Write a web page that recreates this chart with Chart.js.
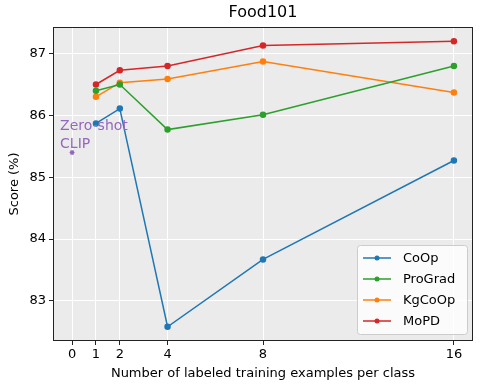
<!DOCTYPE html>
<html>
<head>
<meta charset="utf-8">
<script src="https://cdn.jsdelivr.net/npm/chart.js@4/dist/chart.umd.min.js"></script>
<style>
  html, body { margin: 0; padding: 0; background: #fff; }
  #wrap { width: 482px; height: 390px; }
</style>
</head>
<body>
<div id="wrap"><canvas id="food101"></canvas></div>
<script>
// shots per class
var shots = [1, 2, 4, 8, 16];
var xTicks = [0, 1, 2, 4, 8, 16];
var yTicks = [83, 84, 85, 86, 87];

var coop    = [85.87, 86.11, 82.58, 83.67, 85.27];
var prograd = [86.40, 86.50, 85.77, 86.01, 86.80];
var kgcoop  = [86.30, 86.53, 86.59, 86.87, 86.37];
var mopd    = [86.50, 86.73, 86.80, 87.13, 87.20];
var zeroShot = [85.40];

function pts(ys) {
  return ys.map(function (v, i) { return { x: shots[i], y: v }; });
}

var FONT = "'DejaVu Sans', sans-serif";

var frame = {
  id: 'frame',
  beforeDraw: function (chart) {
    var a = chart.chartArea, c = chart.ctx;
    c.save();
    c.fillStyle = '#ebebeb';
    c.fillRect(a.left, a.top, a.right - a.left, a.bottom - a.top);
    c.restore();
  },
  afterDatasetsDraw: function (chart) {
    var a = chart.chartArea, c = chart.ctx;
    var xs = chart.scales.x, ys = chart.scales.y;
    c.save();
    // zero-shot label
    c.fillStyle = '#9467bd';
    c.font = '14px ' + FONT;
    c.textAlign = 'left';
    c.textBaseline = 'alphabetic';
    var px = xs.getPixelForValue(0), py = ys.getPixelForValue(zeroShot[0]);
    c.fillText('Zero-shot', px - 12, py - 22);
    c.fillText('CLIP', px - 12, py - 4);
    // frame
    c.strokeStyle = '#222';
    c.lineWidth = 1;
    c.strokeRect(a.left + 0.5, a.top + 0.5, a.right - a.left - 1, a.bottom - a.top - 1);
    // title
    c.fillStyle = '#000';
    c.font = '16px ' + FONT;
    c.textAlign = 'center';
    c.textBaseline = 'middle';
    c.fillText('Food101', (a.left + a.right) / 2, 13);
    // legend
    var bx = 357, by = 245, bw = 110, bh = 89;
    c.fillStyle = 'rgba(255,255,255,0.8)';
    c.strokeStyle = '#cccccc';
    c.beginPath();
    c.roundRect(bx + 0.5, by + 0.5, bw, bh, 3);
    c.fill();
    c.stroke();
    c.font = '13px ' + FONT;
    c.textAlign = 'left';
    for (var i = 0; i < 4; i++) {
      var ds = chart.data.datasets[i];
      var ly = by + 13 + i * 21;
      c.strokeStyle = ds.borderColor;
      c.lineWidth = 1.5;
      c.beginPath();
      c.moveTo(bx + 6, ly);
      c.lineTo(bx + 34, ly);
      c.stroke();
      c.fillStyle = ds.borderColor;
      c.beginPath();
      c.arc(bx + 20, ly, 2.5, 0, Math.PI * 2);
      c.fill();
      c.fillStyle = '#000';
      c.fillText(ds.label, bx + 46, ly + 1);
    }
    c.restore();
  }
};

function line(label, color, data) {
  return {
    label: label,
    data: pts(data),
    borderColor: color,
    backgroundColor: color,
    borderWidth: 1.5,
    pointRadius: 2.5,
    pointHoverRadius: 2.5,
    tension: 0
  };
}

new Chart(document.getElementById('food101'), {
  type: 'line',
  data: {
    datasets: [
      line('CoOp', '#1f77b4', coop),
      line('ProGrad', '#2ca02c', prograd),
      line('KgCoOp', '#ff7f0e', kgcoop),
      line('MoPD', '#d62728', mopd),
      {
        label: 'Zero-shot CLIP',
        data: [{ x: 0, y: zeroShot[0] }],
        showLine: false,
        pointStyle: 'star',
        pointRadius: 2.5,
        borderWidth: 1.2,
        borderColor: '#9467bd',
        backgroundColor: '#9467bd'
      }
    ]
  },
  options: {
    responsive: true,
    maintainAspectRatio: false,
    animation: false,
    layout: { padding: { left: 0, right: 9, top: 27, bottom: 0 } },
    plugins: {
      legend: { display: false },
      title: { display: false },
      tooltip: { enabled: false }
    },
    scales: {
      x: {
        type: 'linear',
        min: -0.8,
        max: 16.8,
        afterBuildTicks: function (s) { s.ticks = xTicks.map(function (v) { return { value: v }; }); },
        afterFit: function (s) { s.height = 49; },
        grid: { color: '#ffffff', lineWidth: 1, drawTicks: true, tickLength: 4, tickColor: '#222' },
        border: { display: false },
        ticks: { color: '#000', font: { family: FONT, size: 13 }, padding: 2, maxRotation: 0 },
        title: { display: true, text: 'Number of labeled training examples per class', color: '#000', font: { family: FONT, size: 13 }, padding: { top: 0, bottom: 9 } }
      },
      y: {
        min: 82.35,
        max: 87.43,
        afterBuildTicks: function (s) { s.ticks = yTicks.map(function (v) { return { value: v }; }); },
        afterFit: function (s) { s.width = 53; },
        grid: { color: '#ffffff', lineWidth: 1, drawTicks: true, tickLength: 4, tickColor: '#222' },
        border: { display: false },
        ticks: { color: '#000', font: { family: FONT, size: 13 }, padding: 3 },
        title: { display: true, text: 'Score (%)', color: '#000', font: { family: FONT, size: 13 }, padding: { top: 7, bottom: 0 } }
      }
    }
  },
  plugins: [frame]
});
</script>
</body>
</html>
